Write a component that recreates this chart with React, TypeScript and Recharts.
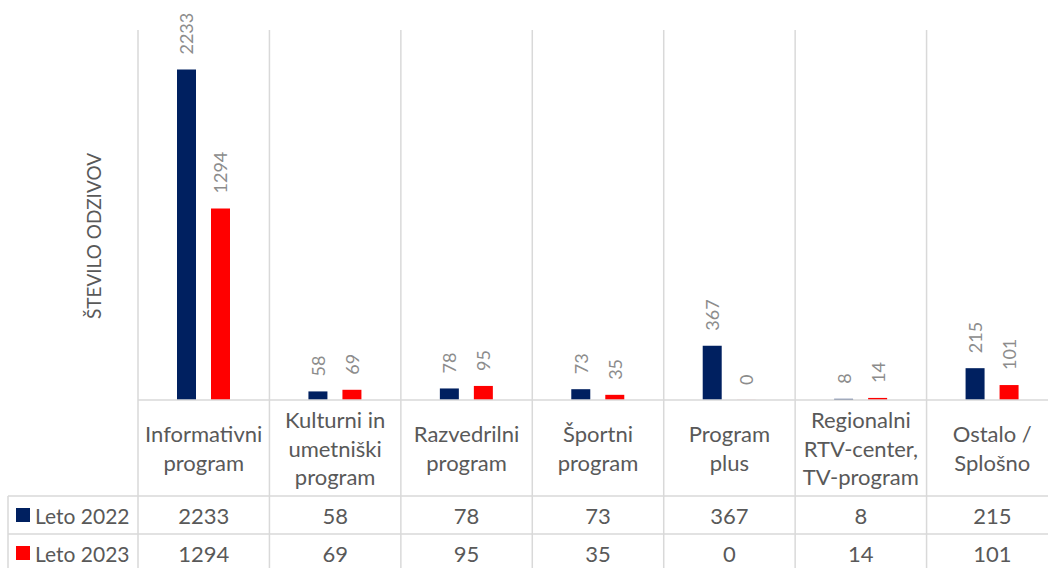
import { Bar, BarChart, XAxis, YAxis } from "recharts";

// categories (line breaks as in the table header)
const categories = [
  "Informativni\nprogram",
  "Kulturni in\numetniški\nprogram",
  "Razvedrilni\nprogram",
  "Športni\nprogram",
  "Program\nplus",
  "Regionalni\nRTV-center,\nTV-program",
  "Ostalo /\nSplošno",
];
const leto2022 = [2233, 58, 78, 73, 367, 8, 215];
const leto2023 = [1294, 69, 95, 35, 0, 14, 101];
const seriesNames = ["Leto 2022", "Leto 2023"];
const seriesColors = ["#002060", "#FF0000"];
const yTitle = "ŠTEVILO ODZIVOV";

const data = categories.map((name, i) => ({ name, a: leto2022[i], b: leto2023[i] }));

const W = 1070;
const H = 568;
const TOP = 30;
const LEFT = 138;
const AXIS_H = 168;
const PLOT_W = 920;
const BASE = H - AXIS_H;
const ROW1 = 496;
const ROW2 = 534;
const GRID = "#d9d9d9";
const TEXT = "#595959";
const FONT = "Lato, sans-serif";

const TableTick = (props: any) => {
  const { x, payload, index } = props;
  const half = payload.offset || PLOT_W / categories.length / 2;
  const lines = String(payload.value).split("\n");
  const lh = 28.5;
  const headMid = (BASE + ROW1) / 2;
  const firstY = headMid - ((lines.length - 1) * lh) / 2;
  const last = index === categories.length - 1;
  return (
    <g fontFamily={FONT}>
      <line x1={x - half} x2={x - half} y1={TOP} y2={H} stroke={GRID} strokeWidth={1.5} />
      {last && <line x1={x + half} x2={x + half} y1={TOP} y2={H} stroke={GRID} strokeWidth={1.5} />}
      {index === 0 && (
        <g>
          <line x1={8} x2={W} y1={ROW1} y2={ROW1} stroke={GRID} strokeWidth={1.5} />
          <line x1={8} x2={W} y1={ROW2} y2={ROW2} stroke={GRID} strokeWidth={1.5} />
          <line x1={8} x2={8} y1={ROW1} y2={H} stroke={GRID} strokeWidth={1.5} />
          {seriesNames.map((s, k) => {
            const cy = k === 0 ? (ROW1 + ROW2) / 2 : ROW2 + 19;
            return (
              <g key={s}>
                <rect x={16} y={cy - 7} width={14} height={14} fill={seriesColors[k]} />
                <text x={35} y={cy} dominantBaseline="central" fontSize={21} fill={TEXT}>
                  {s}
                </text>
              </g>
            );
          })}
        </g>
      )}
      {lines.map((l, k) => (
        <text
          key={k}
          x={x}
          y={firstY + k * lh}
          textAnchor="middle"
          dominantBaseline="central"
          fontSize={22}
          fill={TEXT}
        >
          {l}
        </text>
      ))}
      <text x={x} y={(ROW1 + ROW2) / 2} textAnchor="middle" dominantBaseline="central" fontSize={22} fill={TEXT}>
        {leto2022[index]}
      </text>
      <text x={x} y={ROW2 + 19} textAnchor="middle" dominantBaseline="central" fontSize={22} fill={TEXT}>
        {leto2023[index]}
      </text>
    </g>
  );
};

const BarValue = (props: any) => {
  const { x, y, width, height, value } = props;
  const cx = x + width / 2;
  const ty = Math.min(y, y + (height || 0)) - 15;
  return (
    <text
      x={cx}
      y={ty}
      transform={`rotate(-90, ${cx}, ${ty})`}
      textAnchor="start"
      dominantBaseline="central"
      fontSize={18}
      fontFamily={FONT}
      fill="#8c8c8c"
    >
      {String(value)}
    </text>
  );
};

const YTitle = (props: any) => {
  const vb = props.viewBox || { x: 0, y: TOP, width: LEFT, height: BASE - TOP };
  const cx = vb.x + 93;
  const cy = vb.y + vb.height / 2 + 21;
  return (
    <text
      x={cx}
      y={cy}
      transform={`rotate(-90, ${cx}, ${cy})`}
      textAnchor="middle"
      dominantBaseline="central"
      fontSize={19}
      fontFamily={FONT}
      fill={TEXT}
    >
      {yTitle}
    </text>
  );
};

export default function App() {
  return (
    <div style={{ position: "absolute", left: 0, top: 0, width: 1048, height: 568, overflow: "hidden", background: "#fff" }}>
      <BarChart
        width={W}
        height={H}
        data={data}
        margin={{ top: TOP, right: W - LEFT - PLOT_W, bottom: 0, left: 0 }}
        barSize={19}
        barGap={15}
      >
        <XAxis
          dataKey="name"
          height={AXIS_H}
          interval={0}
          tickLine={false}
          axisLine={{ stroke: GRID, strokeWidth: 1.5 }}
          tick={TableTick}
        />
        <YAxis
          width={LEFT}
          domain={[0, 2500]}
          tick={false}
          tickLine={false}
          axisLine={false}
          label={{ value: yTitle, content: YTitle }}
        />
        <Bar dataKey="a" name={seriesNames[0]} fill={seriesColors[0]} minPointSize={0.1} isAnimationActive={false} label={BarValue} />
        <Bar dataKey="b" name={seriesNames[1]} fill={seriesColors[1]} minPointSize={0.1} isAnimationActive={false} label={BarValue} />
      </BarChart>
    </div>
  );
}
